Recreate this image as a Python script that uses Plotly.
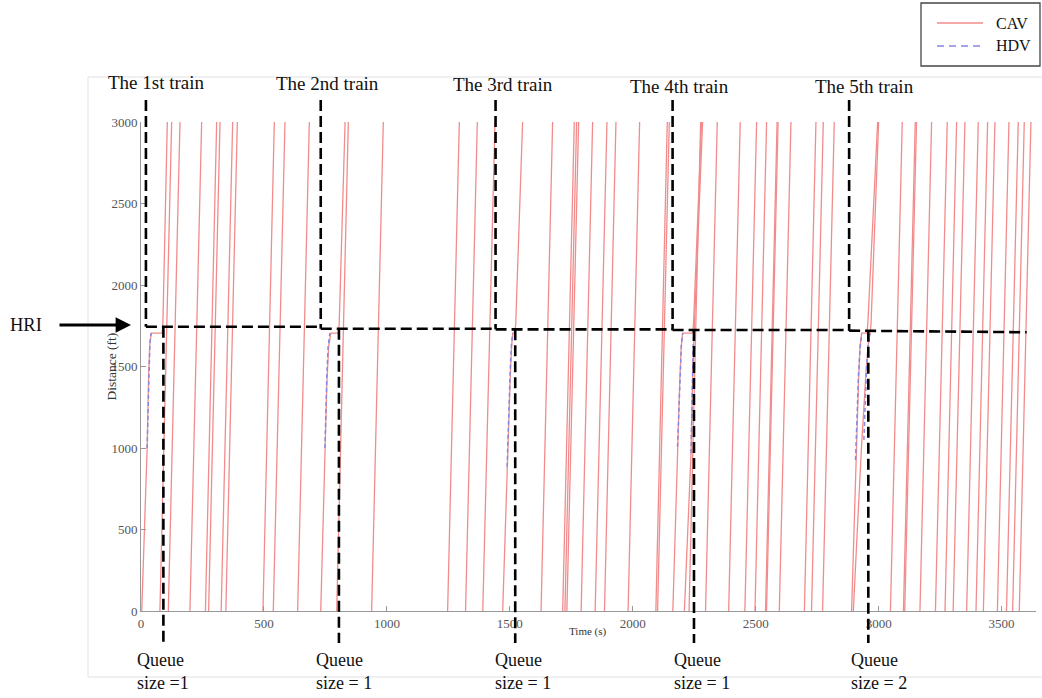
import plotly.graph_objects as go

# ---------------- data ----------------
XMAX = 3640   # s
YMAX = 3000   # ft

# regular CAV trajectories: time at 0 ft and time at 3000 ft
cav_enter = [77, 111, 199, 262, 275, 326, 345, 496, 538, 637, 796, 938,
             1247, 1320, 1390, 1627, 1715, 1724, 1732, 1790, 1847, 1885, 1981,
             2094, 2101, 2229, 2296, 2390, 2456, 2497, 2540, 2544, 2596, 2698,
             2727, 2772, 3048, 3101, 3106, 3168, 3231, 3270, 3303, 3358, 3396,
             3426, 3483, 3520, 3545, 3572]
cav_exit = [124.7, 158.6, 246.7, 307.7, 321.3, 372.8, 391.8, 542.2, 585.6, 684.6, 843.2, 985.5,
            1294.6, 1367.8, 1439.6, 1674.1, 1762.2, 1771.7, 1779.9, 1836.8, 1895.1, 1931.7, 2027.9,
            2140.4, 2148.6, 2276.0, 2343.7, 2437, 2503.7, 2544.4, 2587, 2591, 2643.4, 2745,
            2774.9, 2819.6, 3096.1, 3149, 3154, 3215.4, 3279.1, 3317.1, 3351, 3405.2, 3443.2,
            3473, 3530, 3567.9, 3592.3, 3619.4]

# CAV trajectories that stop in front of the HRI (time, distance)
queue_cav_t = [
    [3, 25, 31, 36, 42, 86, 89, 107],
    [731, 748, 756, 763, 772, 803, 806, 830],
    [1471, 1491, 1501, 1507, 1512, 1520, 1524, 1552],
    [2163, 2182, 2191, 2197, 2203, 2244, 2247, 2280],
    [2210, 2237, 2242, 2246, 2250, 2284],
    [2890, 2908, 2918, 2924, 2931, 2952, 2956, 2996],
    [2897, 2930, 2948, 2958, 2965, 2969, 3000],
]
queue_cav_d = [
    [0, 1000, 1450, 1640, 1705, 1705, 1760, 3000],
    [0, 1000, 1400, 1620, 1705, 1705, 1760, 3000],
    [0, 1000, 1400, 1620, 1705, 1705, 1760, 3000],
    [0, 1000, 1400, 1620, 1705, 1705, 1760, 3000],
    [0, 970, 1350, 1600, 1720, 3000],
    [0, 1000, 1400, 1620, 1705, 1705, 1760, 3000],
    [0, 1000, 1450, 1640, 1700, 1760, 3000],
]

# HDV trajectories near the HRI (time, distance)
hdv_t = [
    [25, 29, 32, 36, 41],
    [748, 752, 756, 761, 768],
    [1489, 1496, 1502, 1507, 1512],
    [2182, 2188, 2193, 2198, 2203],
    [2237, 2240, 2243, 2246, 2248],
    [2906, 2912, 2918, 2925, 2931],
    [2940, 2946, 2951, 2958, 2965],
]
hdv_d = [
    [1000, 1280, 1500, 1640, 1705],
    [1000, 1250, 1450, 1620, 1705],
    [885, 1250, 1500, 1640, 1705],
    [1008, 1300, 1500, 1640, 1704],
    [969, 1250, 1500, 1640, 1700],
    [926, 1233, 1450, 1620, 1700],
    [1050, 1300, 1499, 1640, 1700],
]

# train annotation (black dashed) values
train_up = [20, 731, 1442, 2162, 2880]        # s
train_down = [91, 805, 1522, 2249, 2958]      # s
hri_level = [1744, 1732, 1728, 1724, 1720]    # ft
hri_end_t = 3602
hri_end_d = 1710
train_top_d = 3135
queue_bottom_d = -196

train_labels = ["The 1st train", "The 2nd train", "The 3rd train", "The 4th train", "The 5th train"]
train_label_t = [65, 760, 1472, 2192, 2944]
train_label_d = [3245, 3239, 3233, 3215, 3215]

queue_labels = ["Queue<br>size =1", "Queue<br>size = 1", "Queue<br>size = 1",
                "Queue<br>size = 1", "Queue<br>size = 2"]
queue_label_shift = [-28, -25, -22, -22, -19]
queue_label_d = -371

x_ticks = [0, 500, 1000, 1500, 2000, 2500, 3000, 3500]
y_ticks = [0, 500, 1000, 1500, 2000, 2500, 3000]

# ---------------- layout geometry ----------------
W, H = 1042, 698
ML, MR, MT, MB = 141, 6, 122, 87
PW = W - ML - MR
PH = H - MT - MB


def pxx(px):
    return (px - ML) / PW


def pxy(py):
    return (H - MB - py) / PH


SERIF = "Liberation Serif, Times New Roman, serif"
RED = "rgb(242,140,140)"
BLUE = "rgb(135,135,232)"

# ---------------- traces ----------------
cx, cy = [], []
for a, b in zip(cav_enter, cav_exit):
    cx += [a, b, None]
    cy += [0, YMAX, None]
for ts, ds in zip(queue_cav_t, queue_cav_d):
    cx += ts + [None]
    cy += ds + [None]

hx, hy = [], []
for ts, ds in zip(hdv_t, hdv_d):
    hx += ts + [None]
    hy += ds + [None]

fig = go.Figure()
fig.add_trace(go.Scatter(x=cx, y=cy, mode="lines", name="CAV",
                         line=dict(color=RED, width=1.3), showlegend=False,
                         connectgaps=False, hoverinfo="skip"))
fig.add_trace(go.Scatter(x=hx, y=hy, mode="lines", name="HDV",
                         line=dict(color=BLUE, width=1.5, dash="4px,3px"),
                         showlegend=False, connectgaps=False, hoverinfo="skip"))

# ---------------- black dashed train marks ----------------
shapes = []
BL = dict(color="black", width=2.6, dash="11px,5px")
n = len(train_up)
for i in range(n):
    shapes.append(dict(type="line", xref="x", yref="paper",
                       x0=train_up[i], x1=train_up[i],
                       y0=train_top_d / YMAX, y1=hri_level[i] / YMAX, line=BL))
    x_next = train_up[i + 1] if i + 1 < n else hri_end_t
    d_next = hri_level[i] if i + 1 < n else hri_end_d
    shapes.append(dict(type="line", xref="x", yref="paper",
                       x0=train_up[i], x1=x_next,
                       y0=hri_level[i] / YMAX, y1=d_next / YMAX, line=BL))
    shapes.append(dict(type="line", xref="x", yref="paper",
                       x0=train_down[i], x1=train_down[i],
                       y0=hri_level[i] / YMAX, y1=queue_bottom_d / YMAX, line=BL))

# faint frame of the pasted picture
FR = dict(color="rgb(225,225,225)", width=1)
shapes.append(dict(type="line", xref="paper", yref="paper",
                   x0=pxx(88), x1=pxx(1042), y0=pxy(77), y1=pxy(77), line=FR))
shapes.append(dict(type="line", xref="paper", yref="paper",
                   x0=pxx(88), x1=pxx(88), y0=pxy(77), y1=pxy(677), line=FR))
shapes.append(dict(type="line", xref="paper", yref="paper",
                   x0=pxx(88), x1=pxx(1042), y0=pxy(677), y1=pxy(677), line=FR))

# manual legend box
shapes.append(dict(type="rect", xref="paper", yref="paper",
                   x0=pxx(921), x1=pxx(1040), y0=pxy(3), y1=pxy(66),
                   line=dict(color="rgb(70,70,70)", width=1.3), fillcolor="white"))
shapes.append(dict(type="line", xref="paper", yref="paper",
                   x0=pxx(937), x1=pxx(983), y0=pxy(23), y1=pxy(23),
                   line=dict(color=RED, width=1.5)))
shapes.append(dict(type="line", xref="paper", yref="paper",
                   x0=pxx(937), x1=pxx(983), y0=pxy(46), y1=pxy(46),
                   line=dict(color=BLUE, width=1.6, dash="7px,5px")))

annotations = []
for lab, t, d in zip(train_labels, train_label_t, train_label_d):
    annotations.append(dict(text=lab, x=t, y=d / YMAX, xref="x", yref="paper",
                            showarrow=False, xanchor="center", yanchor="middle",
                            font=dict(family=SERIF, size=19, color="#111")))
for lab, t, sh in zip(queue_labels, train_down, queue_label_shift):
    annotations.append(dict(text=lab, x=t, y=queue_label_d / YMAX, xref="x", yref="paper",
                            xshift=sh, showarrow=False, xanchor="left", yanchor="middle",
                            align="left", font=dict(family=SERIF, size=18, color="#111")))

# HRI label and arrow
annotations.append(dict(text="HRI", x=pxx(26), y=pxy(325), xref="paper", yref="paper",
                        showarrow=False, xanchor="center", yanchor="middle",
                        font=dict(family=SERIF, size=18.5, color="#111")))
annotations.append(dict(text="", x=pxx(131), y=pxy(325), xref="paper", yref="paper",
                        showarrow=True, ax=-73, ay=0, axref="pixel", ayref="pixel",
                        arrowhead=2, arrowsize=1.1, arrowwidth=2.8, arrowcolor="black",
                        standoff=0, startstandoff=0))

# axis titles
annotations.append(dict(text="Time (s)", x=pxx(588), y=pxy(640), xref="paper", yref="paper",
                        showarrow=False, font=dict(family=SERIF, size=11, color="#333")))
annotations.append(dict(text="Distance (ft)", x=pxx(101), y=pxy(367), xref="paper", yref="paper",
                        showarrow=False, textangle=-90,
                        font=dict(family=SERIF, size=13.5, color="#333")))

# legend text
annotations.append(dict(text="CAV", x=pxx(994), y=pxy(23), xref="paper", yref="paper",
                        showarrow=False, xanchor="left", yanchor="middle",
                        font=dict(family=SERIF, size=16, color="#111")))
annotations.append(dict(text="HDV", x=pxx(994), y=pxy(46), xref="paper", yref="paper",
                        showarrow=False, xanchor="left", yanchor="middle",
                        font=dict(family=SERIF, size=16, color="#111")))

fig.update_layout(
    width=W, height=H,
    margin=dict(l=ML, r=MR, t=MT, b=MB, autoexpand=False),
    paper_bgcolor="white", plot_bgcolor="white",
    showlegend=False,
    shapes=shapes,
    annotations=annotations,
    xaxis=dict(range=[0, XMAX], tickvals=x_ticks, ticktext=[str(v) for v in x_ticks],
               ticks="inside", ticklen=5, tickcolor="#999", tickwidth=1,
               showline=True, linecolor="#999", linewidth=1, showgrid=False, zeroline=False,
               tickfont=dict(family=SERIF, size=13, color="#555"), fixedrange=True),
    yaxis=dict(range=[0, YMAX], tickvals=y_ticks, ticktext=[str(v) for v in y_ticks],
               ticks="inside", ticklen=5, tickcolor="#999", tickwidth=1,
               showline=True, linecolor="#999", linewidth=1, showgrid=False, zeroline=False,
               tickfont=dict(family=SERIF, size=13, color="#555"), fixedrange=True),
)

fig.write_html("out.html", config={"displayModeBar": False},
               post_script="document.body.style.margin='0';document.body.style.overflow='hidden';")
